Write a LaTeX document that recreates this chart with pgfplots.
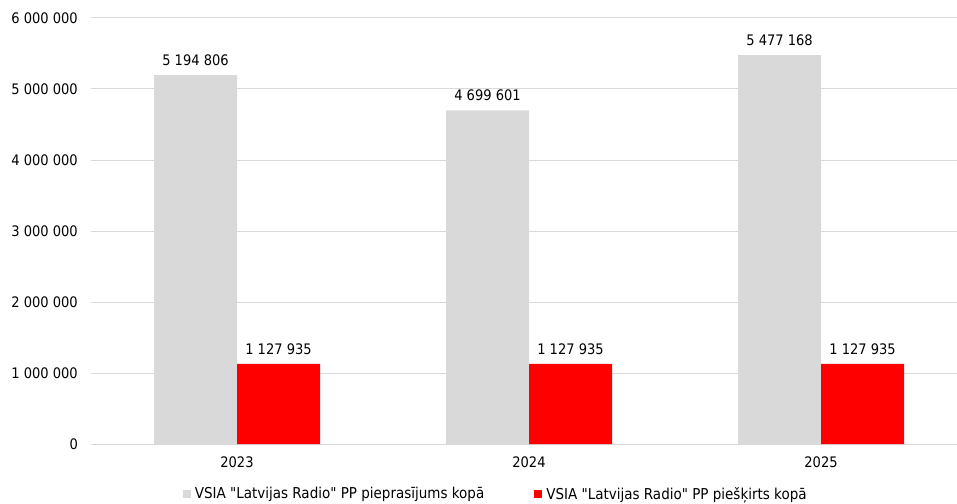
\documentclass[border=0pt]{standalone}
\usepackage{fontspec}
\setmainfont{DejaVu Sans Condensed}
\usepackage{pgfplots}
\pgfplotsset{compat=1.18}
\definecolor{barGray}{RGB}{217,217,217}
\definecolor{barRed}{RGB}{255,0,0}
\definecolor{gridGray}{RGB}{217,217,217}
\begin{document}
\begin{tikzpicture}
\path[use as bounding box] (-91pt,-59pt) rectangle (866pt,444pt);
\begin{axis}[
  at={(0,0)}, anchor=south west,
  scale only axis, width=876pt, height=426pt,
  xmin=-0.5, xmax=2.5, ymin=0, ymax=6000000,
  xtick={0,1,2}, xticklabels={2023,2024,2025},
  ytick={0,1000000,2000000,3000000,4000000,5000000,6000000},
  scaled y ticks=false,
  ymajorgrids, grid style={gridGray, line width=1pt},
  axis line style={draw=none},
  major tick length=0pt,
  font=\fontsize{14.5}{16}\selectfont,
  /pgf/number format/.cd, fixed, precision=0, 1000 sep={\ }, assume math mode=true, /pgfplots/.cd,
  yticklabel style={inner sep=0pt, xshift=-13pt},
  xticklabel style={inner sep=0pt, yshift=-13pt},
  ybar, bar width=83pt,
  nodes near coords,
  every node near coord/.append style={inner sep=0pt, anchor=south, yshift=9pt, black, font=\fontsize{14.5}{16}\selectfont},
  legend style={at={(0.462,0)}, anchor=center, yshift=-50pt, draw=none, fill=none,
    font=\fontsize{15}{17}\selectfont, legend columns=2,
    /tikz/every odd column/.append style={column sep=2pt},
    /tikz/every even column/.append style={column sep=48pt}},
  legend image code/.code={\fill[#1, draw=none] (0pt,-4pt) rectangle (8pt,4pt);},
]
\addplot[fill=barGray, draw=none, bar shift=-41.5pt] coordinates {(0,5194806) (1,4699601) (2,5477168)};
\addplot[fill=barRed, draw=none, bar shift=41.5pt] coordinates {(0,1127935) (1,1127935) (2,1127935)};
\legend{VSIA \textquotedbl Latvijas Radio\textquotedbl{} PP pieprasījums kopā, VSIA \textquotedbl Latvijas Radio\textquotedbl{} PP piešķirts kopā}
\end{axis}
\end{tikzpicture}
\end{document}
